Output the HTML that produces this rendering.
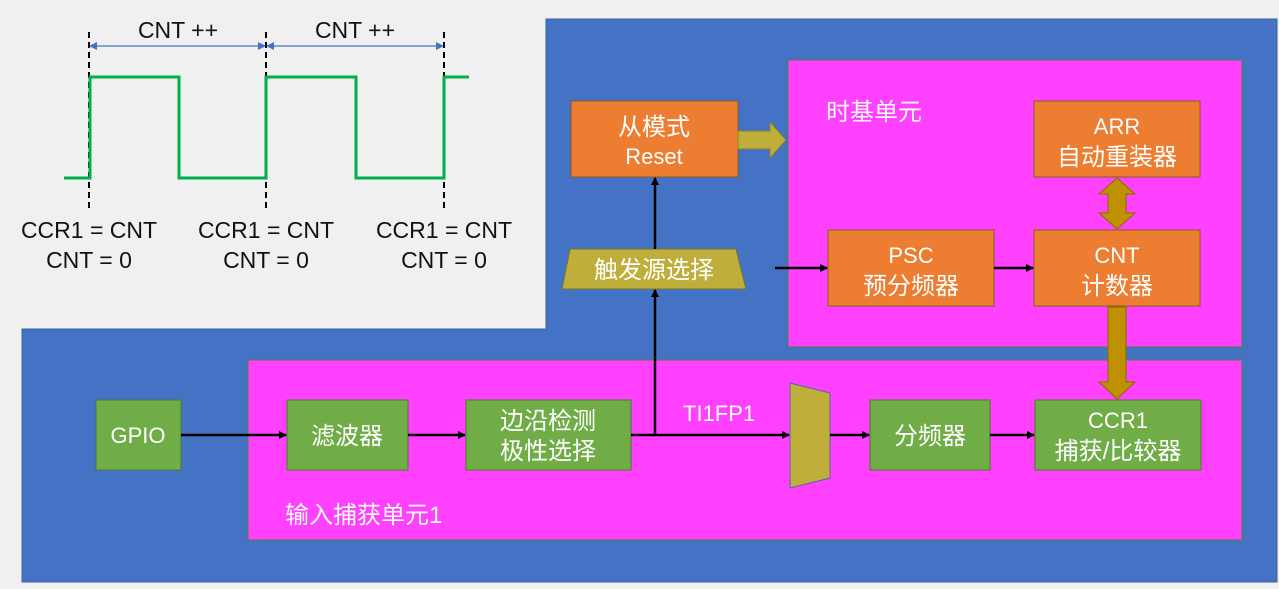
<!DOCTYPE html>
<html><head><meta charset="utf-8"><style>
body{margin:0;width:1279px;height:584px;overflow:hidden;background:#f0f0f0}
svg text{font-family:"Liberation Sans","Noto Sans CJK SC",sans-serif}
.c{font-size:24px}
</style></head><body>
<svg width="1279" height="584" viewBox="0 0 1279 584">
<defs>
<marker id="a" markerWidth="8" markerHeight="8" refX="7" refY="4" orient="auto" markerUnits="userSpaceOnUse"><path d="M0,0 L8,4 L0,8 Z" fill="#000"/></marker>
<marker id="b" markerWidth="8" markerHeight="8" refX="7" refY="4" orient="auto-start-reverse" markerUnits="userSpaceOnUse"><path d="M0,0 L8,4 L0,8 Z" fill="#4472C4"/></marker>
</defs>
<rect width="1279" height="584" fill="#f0f0f0"/>
<polygon points="546,19 1277,19 1277,582 22,582 22,329 546,329" fill="#4472C4" stroke="#3a62a8"/>
<g stroke="#000" stroke-width="2" stroke-dasharray="6,4">
<line x1="89" y1="32" x2="89" y2="208"/><line x1="266" y1="32" x2="266" y2="208"/><line x1="444" y1="32" x2="444" y2="208"/></g>
<line x1="90" y1="46" x2="265" y2="46" stroke="#4472C4" stroke-width="1.3" marker-start="url(#b)" marker-end="url(#b)"/>
<line x1="267" y1="46" x2="443" y2="46" stroke="#4472C4" stroke-width="1.3" marker-start="url(#b)" marker-end="url(#b)"/>
<polyline points="64,178 90,178 90,77 179,77 179,178 266,178 266,77 356,77 356,178 444,178 444,77 469,77" fill="none" stroke="#00B050" stroke-width="3"/>
<g font-size="23" fill="#111" text-anchor="middle">
<text x="178" y="38">CNT ++</text><text x="355" y="38">CNT ++</text>
<text x="89" y="238">CCR1 = CNT</text><text x="89" y="268">CNT = 0</text>
<text x="266" y="238">CCR1 = CNT</text><text x="266" y="268">CNT = 0</text>
<text x="444" y="238">CCR1 = CNT</text><text x="444" y="268">CNT = 0</text></g>
<rect x="788" y="60" width="454" height="287" fill="#FF40FF" stroke="#548235"/>
<rect x="248" y="360" width="994" height="180" fill="#FF40FF" stroke="#548235"/>
<g font-size="22" fill="#fff">
<text x="826" y="120" class="c">时基单元</text><text x="285" y="523" class="c">输入捕获单元1</text><text x="683" y="421">TI1FP1</text></g>
<g fill="#ED7D31" stroke="#8a5a20">
<rect x="571" y="101" width="167" height="76"/><rect x="1034" y="101" width="166" height="76"/>
<rect x="828" y="230" width="166" height="76"/><rect x="1034" y="230" width="166" height="76"/></g>
<g fill="#70AD47" stroke="#4a7a2a">
<rect x="96" y="400" width="85" height="70"/><rect x="287" y="400" width="121" height="70"/>
<rect x="466" y="400" width="165" height="70"/><rect x="870" y="400" width="120" height="70"/>
<rect x="1035" y="400" width="166" height="70"/></g>
<polygon points="570,249 736,249 746,289 562,289" fill="#BFAF3A" stroke="#7a7030"/>
<polygon points="790,383 830,393 830,478 790,488" fill="#BFAF3A" stroke="#4a6aa8"/>
<polygon points="738,131 770,131 770,122 786,140 770,158 770,149 738,149" fill="#BFAF3A" stroke="#8a8030"/>
<polygon points="1117,178 1135,194 1126,194 1126,213 1135,213 1117,229 1099,213 1108,213 1108,194 1099,194" fill="#BF9000" stroke="#8a6a00"/>
<polygon points="1108,307 1126,307 1126,382 1135,382 1117,399 1099,382 1108,382" fill="#BF9000" stroke="#8a6a00"/>
<g stroke="#000" stroke-width="2.5" fill="none">
<line x1="181" y1="435" x2="286" y2="435" marker-end="url(#a)"/>
<line x1="408" y1="435" x2="465" y2="435" marker-end="url(#a)"/>
<line x1="631" y1="435" x2="789" y2="435" marker-end="url(#a)"/>
<line x1="830" y1="435" x2="869" y2="435" marker-end="url(#a)"/>
<line x1="990" y1="435" x2="1034" y2="435" marker-end="url(#a)"/>
<line x1="655" y1="435" x2="655" y2="290" marker-end="url(#a)"/>
<line x1="655" y1="249" x2="655" y2="178" marker-end="url(#a)"/>
<line x1="775" y1="268" x2="827" y2="268" marker-end="url(#a)"/>
<line x1="994" y1="268" x2="1033" y2="268" marker-end="url(#a)"/></g>
<g font-size="22" fill="#fff" text-anchor="middle">
<text x="654" y="135" class="c">从模式</text><text x="654" y="164">Reset</text>
<text x="1117" y="134">ARR</text><text x="1117" y="165" class="c">自动重装器</text>
<text x="911" y="263">PSC</text><text x="911" y="294" class="c">预分频器</text>
<text x="1117" y="263">CNT</text><text x="1117" y="294" class="c">计数器</text>
<text x="654" y="278" class="c">触发源选择</text>
<text x="138" y="443">GPIO</text><text x="347" y="444" class="c">滤波器</text>
<text x="548" y="429" class="c">边沿检测</text><text x="548" y="459" class="c">极性选择</text>
<text x="930" y="444" class="c">分频器</text>
<text x="1118" y="428">CCR1</text><text x="1118" y="459" class="c">捕获/比较器</text></g>
</svg>
</body></html>
